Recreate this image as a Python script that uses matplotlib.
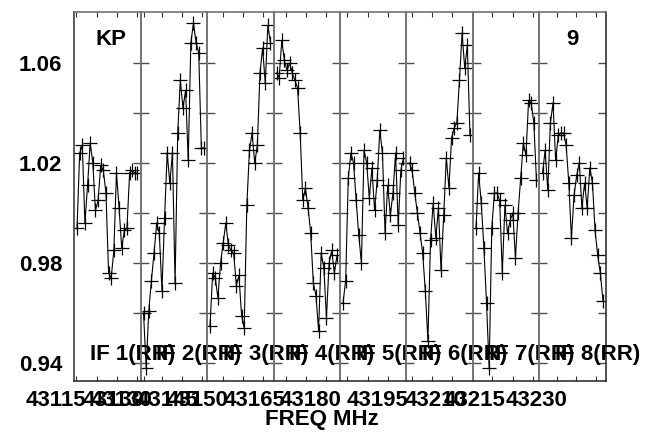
import matplotlib.pyplot as plt
import numpy as np

plt.rcParams["font.family"] = ["Liberation Sans", "DejaVu Sans"]
plt.rcParams["font.weight"] = "bold"

# spectra per IF (24 channels each)
if_names = ["IF 1(RR)", "IF 2(RR)", "IF 3(RR)", "IF 4(RR)",
            "IF 5(RR)", "IF 6(RR)", "IF 7(RR)", "IF 8(RR)"]

if1 = [0.994, 1.024, 1.027, 0.996, 1.011, 1.028, 1.020, 1.001, 1.005, 1.019, 1.017, 1.008,
       0.976, 0.974, 0.985, 1.016, 1.002, 0.986, 0.993, 0.994, 1.016, 1.017, 1.016, 1.016]
if2 = [0.960, 0.938, 0.961, 0.973, 0.984, 0.996, 0.992, 0.969, 0.998, 1.024, 1.012, 1.024,
       0.972, 1.032, 1.053, 1.042, 1.049, 1.021, 1.068, 1.076, 1.068, 1.064, 1.026, 1.026]
if3 = [0.955, 0.976, 0.974, 0.966, 0.980, 0.988, 0.996, 0.987, 0.985, 0.984, 0.971, 0.975,
       0.959, 0.954, 1.003, 1.025, 1.032, 1.020, 1.027, 1.056, 1.066, 1.052, 1.075, 1.068]
if4 = [1.056, 1.054, 1.069, 1.061, 1.057, 1.060, 1.056, 1.053, 1.050, 1.032, 1.005, 1.010,
       1.002, 0.992, 0.972, 0.967, 0.953, 0.984, 0.978, 0.958, 0.980, 0.985, 0.976, 0.983]
if5 = [0.964, 0.973, 1.014, 1.024, 1.020, 1.005, 0.991, 0.980, 1.025, 1.020, 1.006, 1.018,
       1.001, 1.013, 1.033, 1.024, 0.992, 1.011, 0.999, 1.008, 1.024, 0.995, 1.017, 1.022]
if6 = [1.020, 1.017, 1.008, 1.000, 0.992, 0.984, 0.969, 0.949, 0.989, 1.004, 0.990, 1.002,
       0.977, 0.999, 1.022, 1.010, 1.030, 1.034, 1.036, 1.053, 1.072, 1.058, 1.067, 1.031]
if7 = [0.994, 1.016, 1.004, 0.986, 0.964, 0.938, 0.994, 1.008, 1.008, 1.005, 0.976, 1.003,
       0.992, 0.997, 1.000, 0.982, 1.000, 1.014, 1.028, 1.023, 1.045, 1.044, 1.036, 1.013]
if8 = [1.016, 1.025, 1.009, 1.036, 1.044, 1.021, 1.031, 1.032, 1.032, 1.027, 1.012, 0.990,
       1.007, 1.015, 1.020, 1.002, 1.012, 1.002, 1.018, 1.012, 0.993, 0.983, 0.976, 0.965]
spectra = [if1, if2, if3, if4, if5, if6, if7, if8]

ytick_vals = [0.94, 0.96, 0.98, 1.00, 1.02, 1.04, 1.06]
ytick_text = ["0.94", "", "0.98", "", "1.02", "", "1.06"]

# frequency tick labels (they overlap, as in the original plot)
freq_labels = ["43115", "43130", "43130", "43145", "43150", "43165",
               "43180", "43195", "43210", "43215", "43230"]
freq_label_pos = [-0.27, 0.60, 0.71, 1.41, 1.86, 2.71, 3.56, 4.57, 5.44, 6.02, 6.96]

# tick marks inside each panel (fraction of panel width)
panel_ticks = [
    [0.03, 0.346, 0.647, 0.947],
    [0.045, 0.33, 0.63, 0.93],
    [0.24, 0.54, 0.84],
    [0.195, 0.496, 0.797],
    [0.105, 0.42, 0.72],
    [0.09, 0.39, 0.69],
    [0.286, 0.60, 0.90],
    [0.256, 0.556, 0.857],
]

left, right, bottom, top = 0.1144, 0.9366, 0.1221, 0.9724
fs = 16

fig = plt.figure(figsize=(6.47, 4.34), dpi=100)
axes = fig.subplots(1, 8, sharey=True, gridspec_kw=dict(wspace=0))
fig.subplots_adjust(left=left, right=right, bottom=bottom, top=top)

nchan = len(if1)
lo, hi = -1.15, nchan - 1 + 1.15
chan = np.arange(nchan)

for i, ax in enumerate(axes):
    ax.patch.set_visible(False)
    ax.plot(chan, spectra[i], color="black", lw=0.8,
            marker="+", ms=10.5, mew=0.9, mec="black")
    ax.set_xlim(lo, hi)
    ax.set_ylim(0.9328, 1.0804)

    ax.set_xticks([lo + f * (hi - lo) for f in panel_ticks[i]])
    ax.set_xticklabels([])
    ax.tick_params(axis="x", direction="in", top=True, bottom=True,
                   length=3.8, width=0.8, color="0.2")

    ax.set_yticks(ytick_vals)
    ax.tick_params(axis="y", direction="in", left=(i > 0), right=True,
                   length=5.5, width=1.0, color="0.3", labelsize=fs, pad=8.5)
    for s in ax.spines.values():
        s.set_color("0.45")
        s.set_linewidth(1.2)

    ax.text(0.24, 0.057, if_names[i], transform=ax.transAxes, fontsize=fs,
            fontweight="bold", ha="left", va="baseline", clip_on=False, zorder=10)

axes[0].set_yticklabels(ytick_text)
axes[0].spines["left"].set_color("0.25")
axes[-1].spines["right"].set_color("0.2")
for ax in axes:
    ax.spines["bottom"].set_color("0.2")

axes[0].text(0.55, 0.911, "KP", transform=axes[0].transAxes, fontsize=fs,
             fontweight="bold", ha="center", va="baseline")
axes[-1].text(0.5, 0.911, "9", transform=axes[-1].transAxes, fontsize=fs,
              fontweight="bold", ha="center", va="baseline")

for lab, u in zip(freq_labels, freq_label_pos):
    fig.text(left + u * (right - left) / 8, 0.0645, lab, fontsize=fs,
             fontweight="bold", ha="center", va="baseline")

fig.text(0.4977, 0.0207, "FREQ MHz", fontsize=fs, fontweight="bold",
         ha="center", va="baseline")

fig.savefig("out.png", dpi=100)
